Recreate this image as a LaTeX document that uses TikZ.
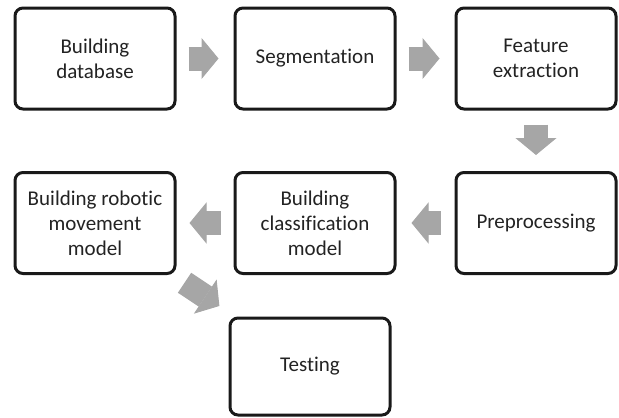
\documentclass[tikz,border=0pt]{standalone}
\usepackage{fontspec}
\setmainfont[Ligatures=NoCommon]{Carlito}
\usetikzlibrary{arrows.meta}

\begin{document}
\begin{tikzpicture}[x=1pt,y=-1pt,
    stepbox/.style={shape=rectangle,draw=boxline,line width=3pt,rounded corners=8pt,fill=white,text=boxtext,align=center,minimum width=160pt,minimum height=101pt,font=\fontsize{21}{25}\selectfont},
    flowarrow/.style={draw=arrowgrey,line width=24pt,-{Triangle[length=17pt,width=41pt,line width=1pt]}}]
    \definecolor{boxline}{RGB}{25,25,25}
    \definecolor{boxtext}{RGB}{35,35,35}
    \definecolor{arrowgrey}{RGB}{166,166,166}
    \useasboundingbox (0,0) rectangle (619,418);
    % first row, left to right
    \node[stepbox] (db) at (95,58.5) {Building\\database};
    \node[stepbox] (seg) at (315,58.5) {Segmentation};
    \node[stepbox] (feat) at (536,58.5) {Feature\\extraction};
    % second row, right to left
    \node[stepbox] (pre) at (536,223) {Preprocessing};
    \node[stepbox] (cls) at (315,223) {Building\\classification\\model};
    \node[stepbox] (robot) at (95,223) {Building robotic\\movement\\model};
    \node[stepbox,minimum height=97pt] (test) at (310,366.5) {Testing};
    % grey block arrows
    \draw[flowarrow,shorten <=12pt,shorten >=15pt] (db) -- (seg);
    \draw[flowarrow,shorten <=12pt,shorten >=15pt] (seg) -- (feat);
    \draw[flowarrow,shorten <=14pt,shorten >=16pt] (feat) -- (pre);
    \draw[flowarrow,shorten <=14pt,shorten >=15pt] (pre) -- (cls);
    \draw[flowarrow,shorten <=13pt,shorten >=13pt] (cls) -- (robot);
    \draw[flowarrow,shorten <=14pt,shorten >=19pt] (robot) -- (test);
\end{tikzpicture}
\end{document}
